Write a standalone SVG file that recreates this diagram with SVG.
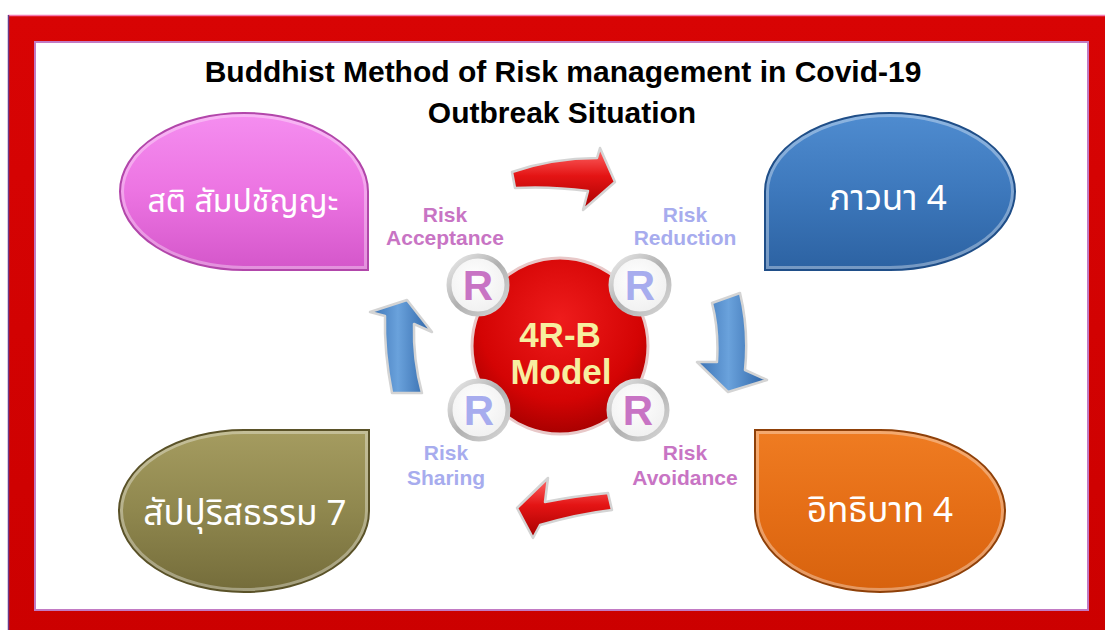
<svg xmlns="http://www.w3.org/2000/svg" width="1105" height="630" viewBox="0 0 1105 630">
  <defs>
    <style>
      .title { font-family: "Liberation Sans", Arial, sans-serif; font-weight: bold; font-size: 30px; fill: #000; text-anchor: middle; }
      .thai { font-family: "Noto Sans Thai", "Noto Sans Thai UI", "Noto Sans", sans-serif; font-size: 35px; fill: #ffffff; text-anchor: middle; }
      .lbl { font-family: "Liberation Sans", Arial, sans-serif; font-weight: bold; font-size: 21px; text-anchor: middle; }
      .pinkc { fill: #c874c4; }
      .lavc { fill: #a7acee; }
      .rletter { font-family: "Liberation Sans", Arial, sans-serif; font-weight: bold; font-size: 42px; text-anchor: middle; }
      .model { font-family: "Liberation Sans", Arial, sans-serif; font-weight: bold; font-size: 35px; fill: #f7efa0; text-anchor: middle; }
      .bevel { fill: none; stroke: #ffffff; stroke-opacity: 0.35; stroke-width: 8; }
      .shade { fill: none; stroke: #000000; stroke-opacity: 0.18; stroke-width: 4; }
      .arrow-edge { stroke: #d4d4d4; stroke-width: 2.5; stroke-linejoin: round; }
    </style>
    <linearGradient id="gPink" x1="0" y1="0" x2="0" y2="1">
      <stop offset="0" stop-color="#f58ef0"/>
      <stop offset="0.5" stop-color="#ec74e2"/>
      <stop offset="1" stop-color="#d456ca"/>
    </linearGradient>
    <linearGradient id="gBlue" x1="0" y1="0" x2="0" y2="1">
      <stop offset="0" stop-color="#4f8cd0"/>
      <stop offset="0.5" stop-color="#3d78bc"/>
      <stop offset="1" stop-color="#2c62a2"/>
    </linearGradient>
    <linearGradient id="gOlive" x1="0" y1="0" x2="0" y2="1">
      <stop offset="0" stop-color="#a59c60"/>
      <stop offset="0.5" stop-color="#8f874e"/>
      <stop offset="1" stop-color="#746c3a"/>
    </linearGradient>
    <linearGradient id="gOrange" x1="0" y1="0" x2="0" y2="1">
      <stop offset="0" stop-color="#ef7c22"/>
      <stop offset="0.5" stop-color="#e56e16"/>
      <stop offset="1" stop-color="#d7620e"/>
    </linearGradient>
    <radialGradient id="gCore" cx="0.5" cy="0.35" r="0.65">
      <stop offset="0" stop-color="#ee1c1c"/>
      <stop offset="0.7" stop-color="#d40404"/>
      <stop offset="1" stop-color="#a80000"/>
    </radialGradient>
    <linearGradient id="gRing" x1="0" y1="0" x2="1" y2="1">
      <stop offset="0" stop-color="#ececec"/>
      <stop offset="0.5" stop-color="#b0b0b0"/>
      <stop offset="1" stop-color="#d8d8d8"/>
    </linearGradient>
    <radialGradient id="gDisc" cx="0.45" cy="0.4" r="0.6">
      <stop offset="0" stop-color="#ffffff"/>
      <stop offset="1" stop-color="#f0f0f0"/>
    </radialGradient>
    <linearGradient id="gRedArrow" x1="0" y1="0" x2="0" y2="1">
      <stop offset="0" stop-color="#ff6a6a"/>
      <stop offset="0.45" stop-color="#e41414"/>
      <stop offset="1" stop-color="#a60000"/>
    </linearGradient>
    <linearGradient id="gBlueArrow" x1="0" y1="0" x2="1" y2="0">
      <stop offset="0" stop-color="#3b72b4"/>
      <stop offset="0.45" stop-color="#6aa2dc"/>
      <stop offset="1" stop-color="#2e64a6"/>
    </linearGradient>
    <linearGradient id="gFrame" x1="0" y1="0" x2="0" y2="1">
      <stop offset="0" stop-color="#d80404"/>
      <stop offset="1" stop-color="#cc0000"/>
    </linearGradient>
    <path id="pPink" d="M368,270 L368,191.5 A124,78.5 0 0 0 244,113 A124,78.5 0 0 0 120,191.5 A124,78.5 0 0 0 244,270 Z"/>
    <path id="pBlue" d="M765,270 L765,191.5 A125,78.5 0 0 1 890,113 A125,78.5 0 0 1 1015,191.5 A125,78.5 0 0 1 890,270 Z"/>
    <path id="pOlive" d="M369,430 L369,511 A125,81 0 0 1 244,592 A125,81 0 0 1 119,511 A125,81 0 0 1 244,430 Z"/>
    <path id="pOrange" d="M755,430 L755,511 A125,81 0 0 0 880,592 A125,81 0 0 0 1005,511 A125,81 0 0 0 880,430 Z"/>
    <clipPath id="cPink"><use href="#pPink"/></clipPath>
    <clipPath id="cBlue"><use href="#pBlue"/></clipPath>
    <clipPath id="cOlive"><use href="#pOlive"/></clipPath>
    <clipPath id="cOrange"><use href="#pOrange"/></clipPath>
  </defs>

  <!-- frame -->
  <g id="frame">
    <rect x="0" y="0" width="1105" height="630" fill="#ffffff"/>
    <rect x="8" y="15" width="1110" height="630" fill="url(#gFrame)"/>
    <line x1="8" y1="15.5" x2="1105" y2="15.5" stroke="#f47ab0" stroke-width="1.5"/>
    <line x1="8.5" y1="15" x2="8.5" y2="630" stroke="#6a3a8a" stroke-width="1.5"/>
    <rect x="35" y="42" width="1053" height="568" fill="#ffffff" stroke="#c27ac4" stroke-width="2"/>
  </g>

  <!-- title -->
  <g id="title">
    <text class="title" x="563" y="82">Buddhist Method of Risk management  in Covid-19</text>
    <text class="title" x="562" y="123">Outbreak Situation</text>
  </g>

  <!-- connectors: curved block arrows around the model -->
  <g id="connectors">
    <path class="arrow-edge" fill="url(#gRedArrow)" d="M512,172 Q553,158 597,158 L600,148 L615,182 L583,210 L588,191 Q550,186 515,188 Z"/>
    <path class="arrow-edge" fill="url(#gBlueArrow)" d="M712,303 L740,293 Q749,330 745,370 L767,380 L728,392 L697,362 L717,362 Q719,330 712,303 Z"/>
    <path class="arrow-edge" fill="url(#gRedArrow)" d="M608,493 Q575,496 545,502 L548,478 L517,508 L533,538 L540,525 Q578,514 612,510 Z"/>
    <path class="arrow-edge" fill="url(#gBlueArrow)" d="M392,393 Q384,352 385,316 L370,312 L407,300 L432,332 L414,324 Q413,360 422,393 Z"/>
  </g>

  <!-- outer nodes -->
  <g id="node-sati">
    <use href="#pPink" fill="url(#gPink)"/>
    <use href="#pPink" class="bevel" clip-path="url(#cPink)"/>
    <use href="#pPink" fill="none" stroke="#b246aa" stroke-width="2"/>
    <text class="thai" x="243" y="212" style="font-size:32px">สติ สัมปชัญญะ</text>
  </g>
  <g id="node-bhavana">
    <use href="#pBlue" fill="url(#gBlue)"/>
    <use href="#pBlue" class="bevel" clip-path="url(#cBlue)"/>
    <use href="#pBlue" fill="none" stroke="#1f4e88" stroke-width="2"/>
    <text class="thai" x="888" y="210">ภาวนา 4</text>
  </g>
  <g id="node-sappurisa">
    <use href="#pOlive" fill="url(#gOlive)"/>
    <use href="#pOlive" class="bevel" clip-path="url(#cOlive)"/>
    <use href="#pOlive" fill="none" stroke="#5a5228" stroke-width="2"/>
    <text class="thai" x="245" y="525">สัปปุริสธรรม 7</text>
  </g>
  <g id="node-iddhipada">
    <use href="#pOrange" fill="url(#gOrange)"/>
    <use href="#pOrange" class="bevel" clip-path="url(#cOrange)"/>
    <use href="#pOrange" fill="none" stroke="#8f4008" stroke-width="2"/>
    <text class="thai" x="880" y="522">อิทธิบาท 4</text>
  </g>

  <!-- central model -->
  <g id="node-model">
    <circle cx="560" cy="346" r="88" fill="url(#gCore)" stroke="#e8c8c8" stroke-width="3"/>
    <text class="model" x="560" y="347">4R-B</text>
    <text class="model" x="561" y="384">Model</text>
  </g>

  <!-- R discs -->
  <g id="r-acceptance">
    <circle cx="478" cy="285" r="29" fill="url(#gDisc)" stroke="url(#gRing)" stroke-width="5"/>
    <text class="rletter pinkc" x="478" y="300">R</text>
  </g>
  <g id="r-reduction">
    <circle cx="640" cy="285" r="29" fill="url(#gDisc)" stroke="url(#gRing)" stroke-width="5"/>
    <text class="rletter lavc" x="640" y="300">R</text>
  </g>
  <g id="r-sharing">
    <circle cx="479" cy="410" r="29" fill="url(#gDisc)" stroke="url(#gRing)" stroke-width="5"/>
    <text class="rletter lavc" x="479" y="425">R</text>
  </g>
  <g id="r-avoidance">
    <circle cx="638" cy="410" r="29" fill="url(#gDisc)" stroke="url(#gRing)" stroke-width="5"/>
    <text class="rletter pinkc" x="638" y="425">R</text>
  </g>

  <!-- risk labels -->
  <g id="label-acceptance" class="lbl pinkc">
    <text x="445" y="222">Risk</text>
    <text x="445" y="245">Acceptance</text>
  </g>
  <g id="label-reduction" class="lbl lavc">
    <text x="685" y="222">Risk</text>
    <text x="685" y="245">Reduction</text>
  </g>
  <g id="label-sharing" class="lbl lavc">
    <text x="446" y="460">Risk</text>
    <text x="446" y="485">Sharing</text>
  </g>
  <g id="label-avoidance" class="lbl pinkc">
    <text x="685" y="460">Risk</text>
    <text x="685" y="485">Avoidance</text>
  </g>
</svg>
